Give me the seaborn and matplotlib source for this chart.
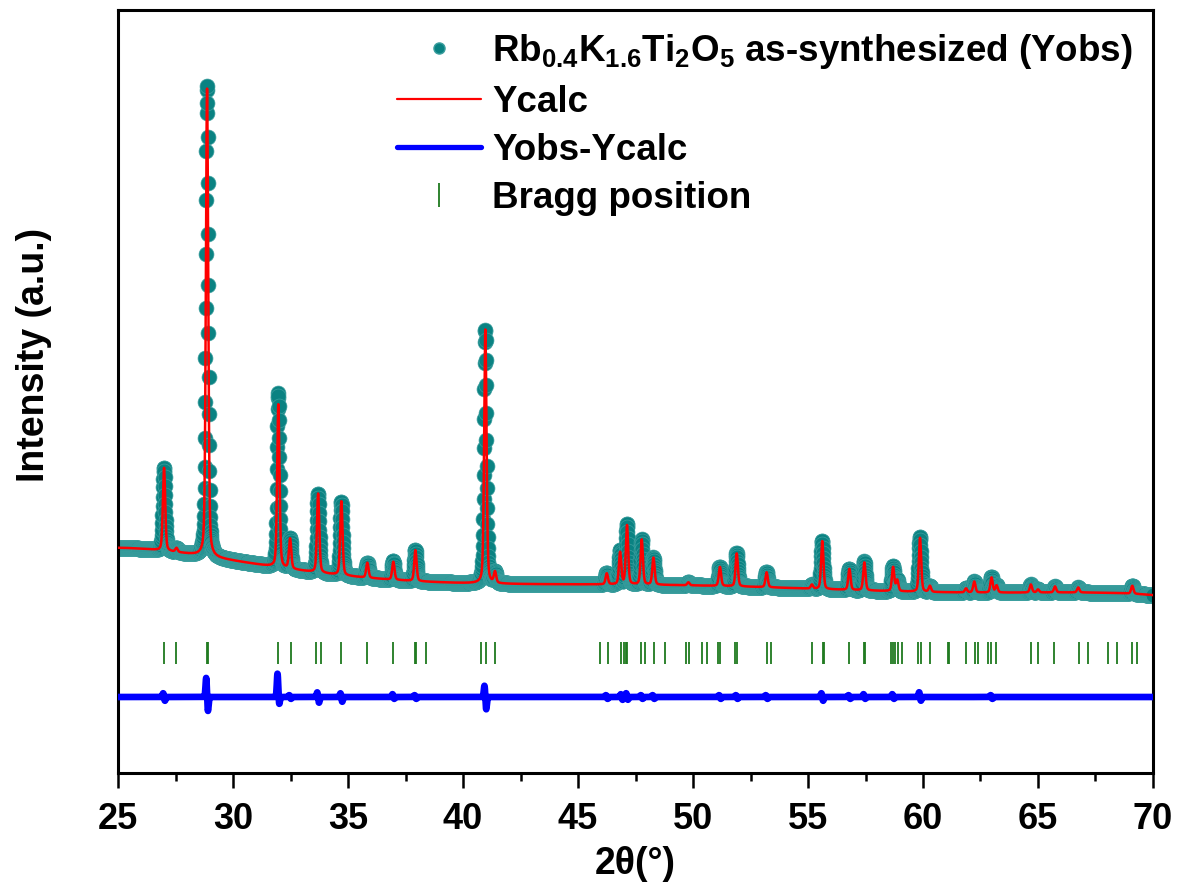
import numpy as np
import pandas as pd
import matplotlib
matplotlib.use("Agg")
import matplotlib.pyplot as plt
from matplotlib.lines import Line2D
from matplotlib.ticker import MultipleLocator
import seaborn as sns

# ---------------- data ----------------
# background of the pattern (2theta, intensity a.u.)
bg_x = [25.0, 27.0, 29.3, 30.8, 31.5, 33.0, 35.1, 37.2, 39.5, 42.4, 45.0, 50.0, 55.0, 60.0, 65.0, 70.0]
bg_y = [225, 222, 216, 209, 207, 202, 196, 193, 191, 189, 189, 187, 184, 182, 180, 178]

# reflections: position (deg) and net height above background (a.u.)
peak_pos = [27.00, 27.54, 28.87, 31.97, 32.48, 33.70, 34.71, 35.84, 36.97, 37.93,
            40.97, 41.39, 46.25, 46.83, 47.13, 47.77, 48.28, 49.80, 51.17, 51.90,
            53.20, 55.17, 55.62, 56.80, 57.45, 58.70, 58.88, 59.87, 60.30, 61.87,
            62.23, 62.98, 63.20, 64.69, 65.00, 65.74, 66.75, 69.10]
peak_h = [83, 4, 468, 163, 30, 79, 74, 15, 18, 31,
          254, 11, 11, 32, 59, 45, 27, 3, 19, 33,
          15, 4, 48, 21, 28, 24, 11, 54, 6, 4,
          11, 15, 7, 8, 3, 6, 5, 8]

# difference curve features: position, upward and downward excursion (a.u.)
diff_pos = [27.00, 28.87, 31.97, 32.48, 33.70, 34.71, 36.97, 37.93, 40.97, 46.25,
            46.90, 47.13, 47.77, 48.28, 51.17, 51.90, 53.20, 55.62, 56.80, 57.45,
            58.70, 59.87, 62.98]
diff_up = [4, 20, 24, 2, 5, 4, 3, 2, 12, 2, 3, 4, 2, 2, 2, 2, 2, 4, 2, 3, 3, 5, 2]
diff_down = [4, 15, 8, 2, 6, 5, 2, 2, 13, 2, 3, 3, 2, 2, 2, 2, 2, 4, 2, 2, 2, 4, 2]
diff_offset = 76

# Bragg reflection positions (deg)
bragg = [27.01, 27.54, 28.85, 28.89, 31.97, 32.51, 33.61, 33.81, 34.71, 35.84,
         36.97, 37.91, 37.95, 38.38, 40.80, 41.00, 41.39, 45.94, 46.30, 46.87,
         46.99, 47.07, 47.13, 47.75, 47.90, 48.30, 48.77, 49.68, 49.81, 50.39,
         50.61, 51.10, 51.19, 51.81, 51.93, 53.23, 53.40, 55.17, 55.66, 55.69,
         56.78, 57.45, 57.48, 58.59, 58.69, 58.80, 58.91, 59.09, 59.78, 59.93,
         60.32, 61.08, 61.11, 61.88, 62.25, 62.39, 62.83, 62.97, 63.19, 64.68,
         65.00, 65.70, 66.77, 67.17, 68.04, 68.43, 69.09, 69.32]

# ---------------- profile model ----------------
tt = np.arange(25.0, 70.0001, 0.01)
coef = np.polyfit((np.array(bg_x) - 47.5) / 22.5, bg_y, 6)
background = np.polyval(coef, (tt - 47.5) / 22.5)

fwhm = 0.12
eta = 0.35
def pv(x, c):
    g = np.exp(-4 * np.log(2) * ((x - c) / fwhm) ** 2)
    l = 1.0 / (1.0 + 4 * ((x - c) / fwhm) ** 2)
    return eta * l + (1 - eta) * g

ycalc = background.copy()
for c, h in zip(peak_pos, peak_h):
    ycalc += h * pv(tt, c)

diff = np.zeros_like(tt)
for c, u, d in zip(diff_pos, diff_up, diff_down):
    diff += u * np.exp(-0.5 * ((tt - (c - 0.035)) / 0.03) ** 2)
    diff -= d * np.exp(-0.5 * ((tt - (c + 0.035)) / 0.03) ** 2)

yobs = ycalc + diff
df = pd.DataFrame({"tt": tt, "obs": yobs, "calc": ycalc, "diff": diff + diff_offset})

# ---------------- plotting ----------------
sns.set_theme(style="white")
plt.rcParams["font.family"] = ["Liberation Sans", "DejaVu Sans"]
plt.rcParams["font.weight"] = "bold"
plt.rcParams["text.color"] = "black"
plt.rcParams["axes.labelcolor"] = "black"
plt.rcParams["xtick.color"] = "black"
plt.rcParams["mathtext.fontset"] = "custom"
plt.rcParams["mathtext.rm"] = "Liberation Sans:bold"
plt.rcParams["mathtext.bf"] = "Liberation Sans:bold"
plt.rcParams["mathtext.default"] = "bf"

fig = plt.figure(figsize=(11.77, 8.92), dpi=100)
ax = fig.add_axes([0.1003, 0.1334, 0.8793, 0.8554])

teal = "#0a8282"
edge = "#3c9f9f"
sns.scatterplot(data=df, x="tt", y="obs", ax=ax, s=115, color=teal,
                edgecolor=edge, linewidth=0.5, zorder=2, legend=False)
sns.lineplot(data=df, x="tt", y="calc", ax=ax, color="#ff0000", lw=1.8,
             zorder=3, estimator=None, sort=False)
sns.lineplot(data=df, x="tt", y="diff", ax=ax, color="#0000ff", lw=4.8,
             zorder=3, estimator=None, sort=False)
ax.vlines(bragg, 109, 131, color="#1f7a1f", lw=1.3, zorder=3)

ax.set_xlim(25, 70)
ax.set_ylim(0, 763)
ax.xaxis.set_major_locator(MultipleLocator(5))
ax.xaxis.set_minor_locator(MultipleLocator(2.5))
ax.set_yticks([])
ax.tick_params(axis="x", which="major", direction="out", length=11, width=1.8,
               labelsize=26, pad=10, bottom=True, colors="black")
ax.tick_params(axis="x", which="minor", direction="out", length=6, width=1.8, bottom=True)
for lab in ax.get_xticklabels():
    lab.set_fontweight("bold")
for sp in ax.spines.values():
    sp.set_visible(True)
    sp.set_color("black")
    sp.set_linewidth(2.2)

ax.set_xlabel("2θ(°)", fontsize=27, fontweight="bold", labelpad=6)
ax.set_ylabel("Intensity (a.u.)", fontsize=27, fontweight="bold")
ax.yaxis.set_label_coords(-0.064, 0.548)

handles = [
    Line2D([], [], marker="o", ls="none", markersize=8, color=teal, markeredgecolor=edge),
    Line2D([], [], color="#ff0000", lw=1.6),
    Line2D([], [], color="#0000ff", lw=3.8),
    Line2D([], [], marker="|", ls="none", markersize=17, markeredgewidth=1.3, color="#1f7a1f"),
]
labels = [r"Rb$_{0.4}$K$_{1.6}$Ti$_{2}$O$_{5}$ as-synthesized (Yobs)", "Ycalc", "Yobs-Ycalc", "Bragg position"]
leg = ax.legend(handles, labels, loc="upper right", bbox_to_anchor=(0.995, 0.99),
                frameon=False, fontsize=26.5, handlelength=2.3, handletextpad=0.3,
                labelspacing=0.36, borderaxespad=0.0)
for t in leg.get_texts():
    t.set_fontweight("bold")

fig.savefig("out.png", dpi=100)
